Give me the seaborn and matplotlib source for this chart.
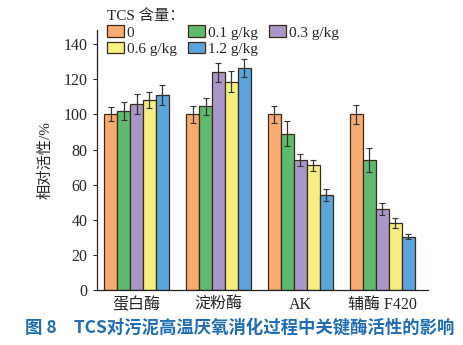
import numpy as np
import pandas as pd
import matplotlib
matplotlib.use("Agg")
import matplotlib.pyplot as plt
import seaborn as sns
from matplotlib.patches import Patch

categories = ["蛋白酶", "淀粉酶", "AK", "辅酶 F420"]
levels = ["0", "0.1 g/kg", "0.3 g/kg", "0.6 g/kg", "1.2 g/kg"]
values = {
    "0":        [100, 100, 100, 100],
    "0.1 g/kg": [102, 104.5, 89, 74],
    "0.3 g/kg": [106, 124, 74, 46],
    "0.6 g/kg": [108, 118.5, 71, 38],
    "1.2 g/kg": [111, 126.5, 54, 30.5],
}
errors = {
    "0":        [4, 5, 5, 5.5],
    "0.1 g/kg": [5, 5, 7, 7],
    "0.3 g/kg": [5.5, 5.5, 3.5, 3.5],
    "0.6 g/kg": [4.5, 6, 3.3, 2.8],
    "1.2 g/kg": [5.5, 5, 3.5, 1.2],
}
colors = ["#F7AB70", "#5FB96E", "#A897C8", "#F6EF80", "#5AA5DC"]

rows = []
for lv in levels:
    for c, v in zip(categories, values[lv]):
        rows.append({"cat": c, "level": lv, "val": v})
df = pd.DataFrame(rows)

sns.set_style("ticks")
plt.rcParams["font.family"] = ["Liberation Serif", "Noto Sans CJK SC"]

fig = plt.figure(figsize=(4.63, 3.45), dpi=100)
ax = fig.add_axes([0.209, 0.159, 0.715, 0.754])

sns.barplot(data=df, x="cat", y="val", hue="level", order=categories,
            hue_order=levels, palette=colors, width=0.79, errorbar=None,
            edgecolor="#3a2a1a", linewidth=0.9, ax=ax, legend=False, saturation=1)

for cont, lv in zip(ax.containers, levels):
    xs = [p.get_x() + p.get_width() / 2 for p in cont.patches]
    ax.errorbar(xs, values[lv], yerr=errors[lv], fmt="none", ecolor="#333333",
                elinewidth=0.9, capsize=2.5, capthick=0.8, zorder=5)

ax.set_xlim(-0.485, 3.555)
ax.set_ylim(0, 148)
ax.set_yticks([0, 20, 40, 60, 80, 100, 120, 140])
ax.set_xlabel("")
ax.set_ylabel("相对活性/%", fontsize=11, labelpad=8)
ax.tick_params(axis="y", labelsize=11.5, length=3, width=0.8, direction="out")
ax.tick_params(axis="x", labelsize=11.5, length=0, pad=5)
for s in ["top", "right"]:
    ax.spines[s].set_visible(False)
for s in ["left", "bottom"]:
    ax.spines[s].set_linewidth(0.9)
    ax.spines[s].set_color("#222222")

handles = [Patch(facecolor=c, edgecolor="#3a2a1a", linewidth=0.9) for c in colors]
order = [0, 3, 1, 4, 2]
leg = fig.legend([handles[i] for i in order], [levels[i] for i in order],
                 title="TCS 含量：", ncol=3, loc="upper left",
                 bbox_to_anchor=(0.211, 1.0), frameon=False, fontsize=11,
                 title_fontsize=11, handlelength=1.1, handleheight=0.8,
                 handletextpad=0.2, columnspacing=0.75, labelspacing=0.15,
                 borderaxespad=0.2, alignment="left")

fig.text(0.517, 0.05, "图 8　TCS对污泥高温厌氧消化过程中关键酶活性的影响",
         ha="center", va="center", fontsize=12.5, color="#1F6DB5",
         fontweight="bold", family=["Noto Sans CJK SC", "DejaVu Sans"])

fig.savefig("out.png", dpi=100)
